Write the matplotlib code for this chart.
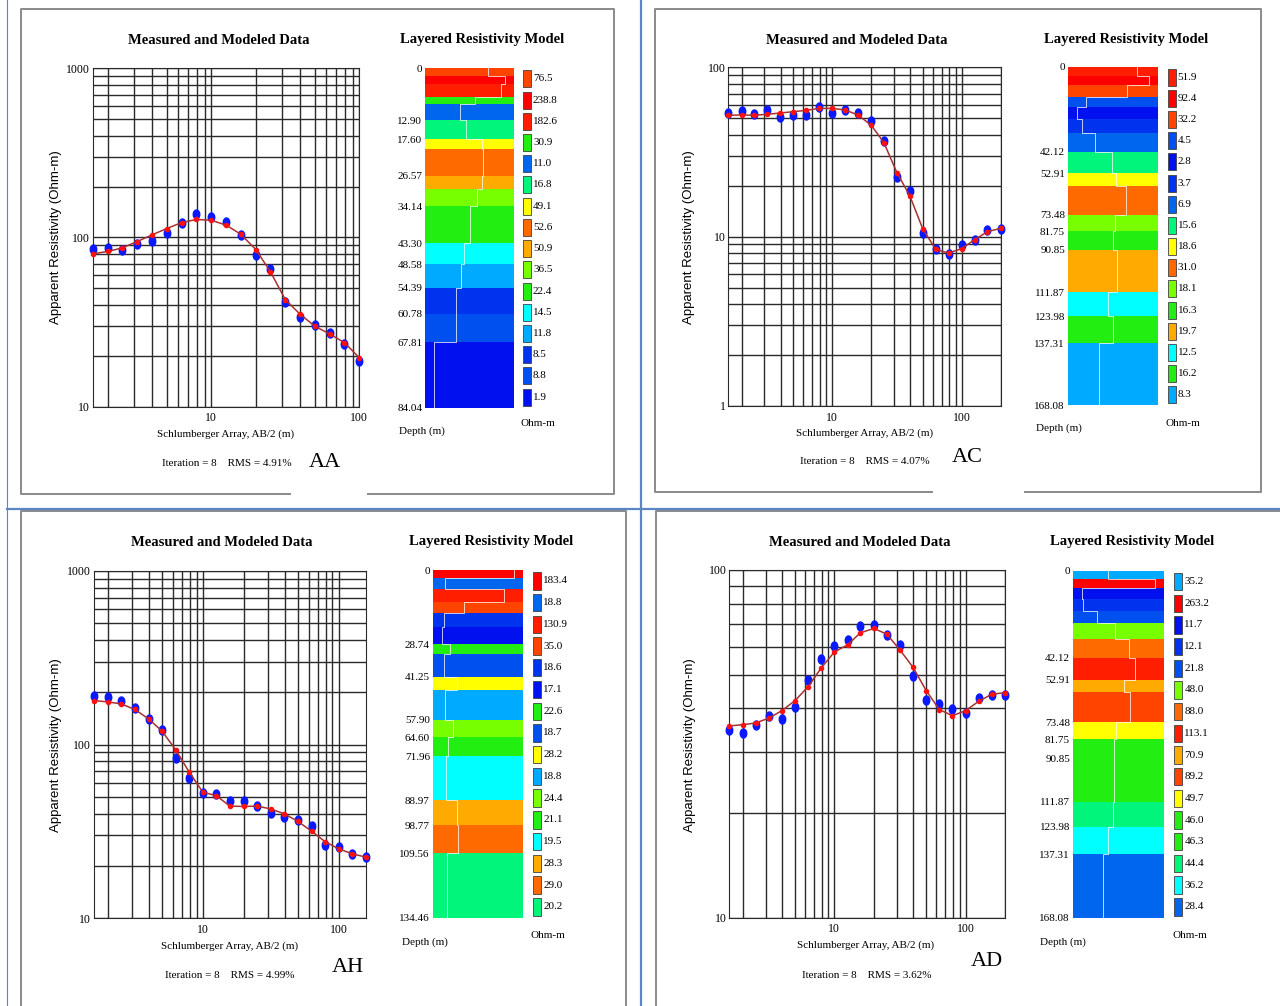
"""Schlumberger VES curves and layered resistivity models (AA, AC, AH, AD)."""

import numpy as np
import matplotlib
matplotlib.use("Agg")
import matplotlib.pyplot as plt
from matplotlib.lines import Line2D
from matplotlib.ticker import LogLocator, NullFormatter, NullLocator

W, H = 1280, 1006

# AB/2 spacings (m), 10 per decade
ab2 = [1.58, 2.0, 2.51, 3.16, 3.98, 5.01, 6.31, 7.94, 10, 12.6, 15.8,
       20, 25.1, 31.6, 39.8, 50.1, 63.1, 79.4, 100, 126, 158, 200]

# ---- AA
aa_meas = [85.8, 86.5, 84.2, 91.7, 95.6, 105.6, 122.6, 137.9, 132.4, 123.2,
           102.8, 78.7, 65.3, 41.5, 33.7, 30.3, 27.4, 23.6, 18.6]
aa_model = [80.1, 82.7, 86.9, 94.7, 103.7, 113.0, 122.6, 127.8, 126.5, 118.3,
            104.6, 84.9, 62.7, 43.0, 35.2, 29.9, 26.9, 23.9, 19.5]
aa_bounds = [0, 1.9, 4.0, 7.2, 8.9, 12.90, 17.60, 20.1, 26.57, 30.0, 34.14,
             43.30, 48.58, 54.39, 60.78, 67.81, 84.04]
aa_rho = [76.5, 238.8, 182.6, 30.9, 11.0, 16.8, 49.1, 52.6, 50.9, 36.5, 22.4,
          14.5, 11.8, 8.5, 8.8, 1.9]
aa_depth_labels = [0, 12.90, 17.60, 26.57, 34.14, 43.30, 48.58, 54.39, 60.78,
                   67.81, 84.04]

# ---- AC
ac_meas = [53.5, 55.2, 53.0, 55.7, 51.1, 52.1, 52.1, 58.6, 53.5, 56.0, 53.5,
           48.0, 36.9, 22.6, 18.5, 10.5, 8.4, 7.9, 8.9, 9.5, 11.0, 11.1]
ac_model = [52.1, 52.3, 52.1, 52.8, 53.7, 54.7, 55.7, 57.2, 57.2, 56.0, 52.3,
            45.6, 35.9, 23.9, 17.4, 11.1, 8.4, 8.0, 8.5, 9.6, 10.7, 11.2]
ac_bounds = [0, 4.6, 9.1, 15.2, 20.2, 26.1, 32.8, 42.12, 52.91, 59.4, 73.48,
             81.75, 90.85, 111.87, 123.98, 137.31, 168.08]
ac_rho = [51.9, 92.4, 32.2, 4.5, 2.8, 3.7, 6.9, 15.6, 18.6, 31.0, 18.1, 16.3,
          19.7, 12.5, 16.2, 8.3]
ac_depth_labels = [0, 42.12, 52.91, 73.48, 81.75, 90.85, 111.87, 123.98,
                   137.31, 168.08]

# ---- AH
ah_meas = [190.6, 187.3, 179.0, 161.8, 141.1, 120.4, 83.8, 64.3, 52.5, 52.0,
           47.6, 47.0, 44.3, 40.4, 38.5, 36.9, 33.9, 26.5, 25.6, 23.5, 22.6]
ah_model = [179.0, 175.8, 171.2, 159.0, 140.5, 119.3, 93.2, 69.3, 53.2, 50.7,
            44.2, 44.0, 44.2, 42.6, 39.9, 36.1, 31.7, 27.6, 25.1, 23.5, 22.5]
ah_bounds = [0, 3.0, 7.4, 12.5, 16.8, 22.2, 28.74, 32.6, 41.25, 46.3, 57.90,
             64.60, 71.96, 88.97, 98.77, 109.56, 134.46]
ah_rho = [183.4, 18.8, 130.9, 35.0, 18.6, 17.1, 22.6, 18.7, 28.2, 18.8, 24.4,
          21.1, 19.5, 28.3, 29.0, 20.2]
ah_depth_labels = [0, 28.74, 41.25, 57.90, 64.60, 71.96, 88.97, 98.77,
                   109.56, 134.46]

# ---- AD
ad_meas = [34.6, 33.9, 35.8, 38.1, 37.4, 40.3, 48.2, 55.5, 60.3, 62.9, 69.0,
           69.3, 64.9, 60.7, 49.6, 42.4, 41.1, 39.8, 38.7, 42.9, 43.6, 43.8]
ad_model = [35.6, 35.9, 36.3, 37.5, 39.4, 42.1, 46.2, 52.3, 58.1, 60.9, 66.0,
            67.9, 65.4, 58.9, 52.5, 45.0, 39.7, 38.1, 39.4, 41.9, 43.9, 44.4]
ad_bounds = [0, 4.2, 8.6, 13.9, 19.5, 25.5, 33.1, 42.12, 52.91, 58.9, 73.48,
             81.75, 90.85, 111.87, 123.98, 137.31, 168.08]
ad_rho = [35.2, 263.2, 11.7, 12.1, 21.8, 48.0, 88.0, 113.1, 70.9, 89.2, 49.7,
          46.0, 46.3, 44.4, 36.2, 28.4]
ad_depth_labels = [0, 42.12, 52.91, 73.48, 81.75, 90.85, 111.87, 123.98,
                   137.31, 168.08]

# layer colours
R, R2, OR, O, OY = "#ff0000", "#ff1e00", "#ff4400", "#ff6a00", "#ffaa00"
Y, YG, G, SG, C = "#ffff00", "#77ff00", "#22ee11", "#00f57a", "#00ffff"
LB, MB, B2, B, DB = "#00aaff", "#0066ee", "#0050f0", "#0033ee", "#0010ee"
aa_colors = [OR, R, R2, G, MB, SG, Y, O, OY, YG, G, C, LB, B, B2, DB]
ac_colors = [R2, R, OR, B2, DB, B, MB, SG, Y, O, YG, G, OY, C, G, LB]
ah_colors = [R, MB, R2, OR, B, DB, G, B2, Y, LB, YG, G, C, OY, O, SG]
ad_colors = [LB, R, DB, B, B2, YG, O, R2, OY, OR, Y, G, G, SG, C, MB]

SERIF = ["Liberation Serif", "DejaVu Serif"]
SANS = ["Liberation Sans", "DejaVu Sans"]
plt.rcParams["font.family"] = SERIF

fig = plt.figure(figsize=(W / 100, H / 100), dpi=100)


def rect(l, t, r, b):
    return [l / W, 1 - b / H, (r - l) / W, (b - t) / H]


def ftext(x, y, s, **kw):
    fig.text(x / W, 1 - y / H, s, ha="center", va="center", **kw)


def fline(xs, ys, color="#8a8a8a", lw=1.4):
    fig.add_artist(Line2D([x / W for x in xs], [1 - y / H for y in ys],
                          transform=fig.transFigure, color=color, lw=lw))


t = np.linspace(0, 2 * np.pi, 40)
ELL = np.column_stack([0.72 * np.cos(t), np.sin(t)])


def curve_panel(box, meas, model, ylim, ydec):
    x = ab2[:len(meas)]
    ax = fig.add_axes(rect(*box))
    ax.set_xscale("log")
    ax.set_yscale("log")
    ax.set_xlim(x[0], x[-1])
    ax.set_ylim(*ylim)
    xdec = [d for d in (10, 100) if x[0] <= d <= x[-1]]
    ax.set_xticks(xdec, labels=[str(d) for d in xdec])
    ax.set_yticks(ydec, labels=[str(d) for d in ydec])
    for axis in (ax.xaxis, ax.yaxis):
        axis.set_minor_locator(LogLocator(base=10, subs=np.arange(2, 10)))
        axis.set_minor_formatter(NullFormatter())
    ax.grid(True, which="both", color="#2a2a2a", lw=1.0)
    ax.tick_params(which="both", length=0, labelsize=8.5)
    ax.tick_params(axis="x", pad=4)
    ax.tick_params(axis="y", pad=2)
    for s in ax.spines.values():
        s.set_color("#2a2a2a")
    ax.plot(x, meas, ls="none", marker=ELL, ms=6.5, color="#0a18ff",
            clip_on=False, zorder=3)
    ax.plot(x, model, color="#a83030", lw=1.1, marker="o", ms=3,
            mfc="#ff1010", mec="#ff1010", clip_on=False, zorder=4)


def model_panel(box, legx, bounds, rho, colors, labels):
    ax = fig.add_axes(rect(*box))
    lr = np.log10(rho)
    m = 0.125 * (lr.max() - lr.min())
    ax.set_xscale("log")
    ax.set_xlim(10 ** (lr.min() - m), 10 ** (lr.max() + m))
    ax.set_ylim(bounds[-1], bounds[0])
    for top, bot, c in zip(bounds[:-1], bounds[1:], colors):
        ax.axhspan(top, bot, color=c, lw=0)
    xs = np.repeat(rho, 2)
    ys = np.column_stack([bounds[:-1], bounds[1:]]).ravel()
    ax.plot(xs, ys, color="white", lw=0.7, alpha=0.75)
    ax.set_xticks([])
    ax.xaxis.set_minor_locator(NullLocator())
    ax.set_yticks(labels, labels=["0" if d == 0 else f"{d:.2f}" for d in labels])
    ax.tick_params(length=0, labelsize=8, pad=2)
    for s in ax.spines.values():
        s.set_visible(False)

    lg = fig.add_axes(rect(legx, box[1], legx + 45, box[3]))
    n = len(rho)
    lg.barh(np.arange(n) + 0.5, 8, left=0, height=0.8, color=colors,
            edgecolor="#404040", lw=0.6)
    for i, r in enumerate(rho):
        lg.text(10, i + 0.5, f"{r:.1f}", va="center", fontsize=8)
    lg.set_xlim(0, 45)
    lg.set_ylim(n, 0)
    lg.axis("off")


def panel_text(code, rms, t1, t2, ylab, xlab, it, cd, dep, ohm):
    ftext(*t1, "Measured and Modeled Data", fontsize=10.5, fontweight="bold")
    ftext(*t2, "Layered Resistivity Model", fontsize=10.5, fontweight="bold")
    ftext(*ylab, "Apparent Resistivity (Ohm-m)", rotation=90, fontsize=9.5,
          family=SANS)
    ftext(*xlab, "Schlumberger Array, AB/2 (m)", fontsize=8)
    ftext(*it, f"Iteration = 8    RMS = {rms}", fontsize=8)
    ftext(*cd, code, fontsize=16)
    ftext(*dep, "Depth (m)", fontsize=8)
    ftext(*ohm, "Ohm-m", fontsize=8)


# AA
curve_panel((92.7, 68.3, 359.3, 406.7), aa_meas, aa_model, (10, 1000), [10, 100, 1000])
model_panel((425, 68.3, 514, 407.7), 523, aa_bounds, aa_rho, aa_colors, aa_depth_labels)
panel_text("AA", "4.91%", (219, 40), (482, 40), (56, 237), (226, 434),
           (227, 464), (325, 463), (422, 431), (538, 424))

# AC
curve_panel((728.3, 67.3, 1000.7, 406), ac_meas, ac_model, (1, 100), [1, 10, 100])
model_panel((1067.7, 66.7, 1157.7, 405.3), 1167.7, ac_bounds, ac_rho, ac_colors, ac_depth_labels)
panel_text("AC", "4.07%", (857, 40), (1126, 40), (689, 237), (865, 433),
           (865, 462), (967, 458), (1059, 428), (1183, 423))

# AH
curve_panel((94, 570.7, 365.7, 918.3), ah_meas, ah_model, (10, 1000), [10, 100, 1000])
model_panel((432.7, 570, 523.3, 917.7), 533.3, ah_bounds, ah_rho, ah_colors, ah_depth_labels)
panel_text("AH", "4.99%", (222, 542), (491, 542), (56, 745), (230, 946),
           (230, 975), (348, 968), (425, 942), (548, 936))

# AD
curve_panel((729.3, 570, 1005, 917.7), ad_meas, ad_model, (10, 100), [10, 100])
model_panel((1072.7, 570.7, 1164.3, 917.7), 1174.3, ad_bounds, ad_rho, ad_colors, ad_depth_labels)
panel_text("AD", "3.62%", (860, 542), (1132, 542), (690, 745), (866, 945),
           (867, 975), (987, 962), (1063, 942), (1190, 936))

# frames
fline([290, 21, 21, 614, 614, 368], [494, 494, 9, 9, 494, 494])
fline([932, 655, 655, 1261, 1261, 1025], [492, 492, 9, 9, 492, 492])
fline([21, 21, 626, 626], [1006, 511, 511, 1006])
fline([656, 656, 1280], [1006, 511, 511])
fline([641, 641], [0, 1006], color="#5a86c8", lw=1.6)
fline([7, 1280], [509, 509], color="#5a86c8", lw=1.6)
fline([7, 7], [0, 1006], color="#5a86c8", lw=0.8)

fig.savefig("out.png", dpi=100)
